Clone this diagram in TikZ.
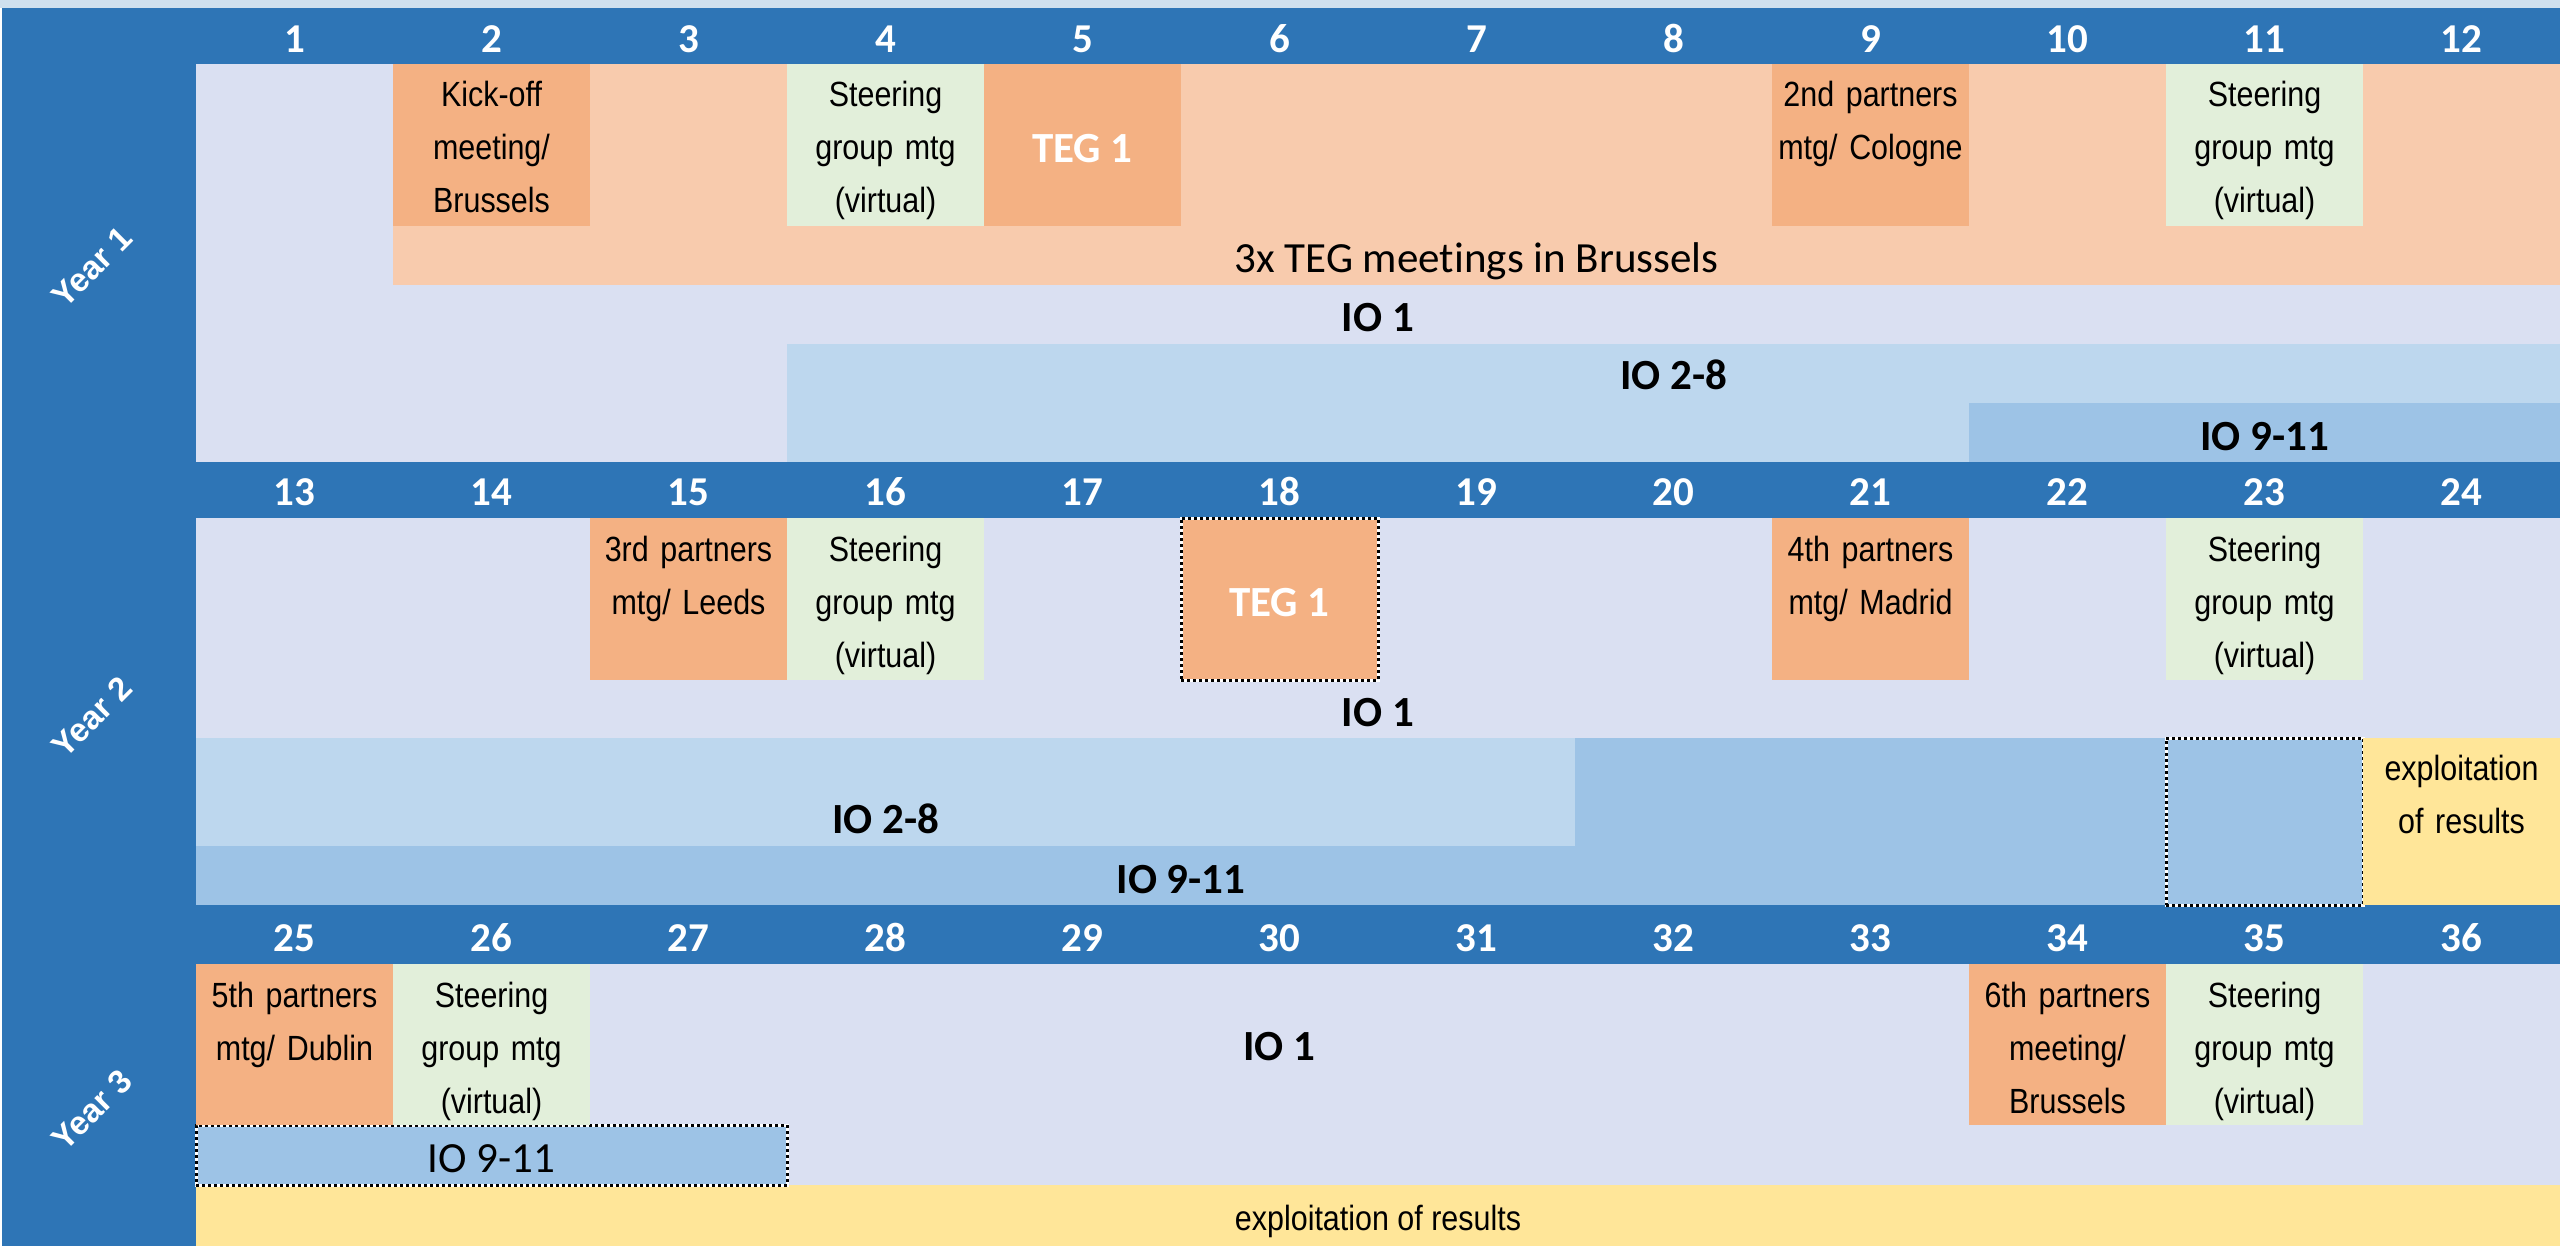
\documentclass[tikz,border=0pt]{standalone}
\usepackage{fontspec}
\setmainfont{Liberation Sans}
\newfontfamily\carlito[Ligatures=NoCommon]{Carlito}
\newfontfamily\narrowsans[FakeStretch=0.87]{Liberation Sans}
\definecolor{hdrblue}{HTML}{2E75B6}
\definecolor{lav}{HTML}{DAE0F2}
\definecolor{peach}{HTML}{F8CBAD}
\definecolor{orng}{HTML}{F4B183}
\definecolor{sgreen}{HTML}{E2EFDA}
\definecolor{lblue}{HTML}{BDD7EE}
\definecolor{mblue}{HTML}{9DC3E6}
\definecolor{yel}{HTML}{FFE699}
\definecolor{topstrip}{HTML}{CFE0EE}
\begin{document}
\begin{tikzpicture}[x=1pt,y=-1pt,
  area/.style={rectangle,inner sep=0pt,outer sep=0pt,anchor=north west,draw=none},
  mtg/.style={area,minimum width=197pt,minimum height=162pt},
  boxtext/.style={anchor=base,text width=195pt,align=center,inner sep=0pt,font=\narrowsans\fontsize{35}{53}\selectfont},
  num/.style={anchor=base,inner sep=0pt,text=white,font=\carlito\bfseries\fontsize{41}{41}\selectfont},
  lbl/.style={anchor=base,inner sep=0pt,font=\carlito\bfseries\fontsize{43}{43}\selectfont},
  lblreg/.style={anchor=base,inner sep=0pt,font=\carlito\fontsize{43}{43}\selectfont},
  teg/.style={lbl,text=white},
  yearlbl/.style={text=white,inner sep=0pt,rotate=45,font=\bfseries\fontsize{33}{33}\selectfont},
  dotborder/.style={draw=white,line width=3pt,postaction={draw=black,line width=3pt,dash pattern=on 3pt off 3pt}},
]
\useasboundingbox (0,0) rectangle (2560,1246);
\fill[white] (0,0) rectangle (2560,1246);

% frame
\node[area,fill=topstrip,minimum width=2560pt,minimum height=8pt] (top) at (0,0) {};
\node[area,fill=hdrblue,minimum width=194pt,minimum height=1238pt] (side) at (2,8) {};
\node[area,fill=hdrblue,minimum width=2364pt,minimum height=56pt] (hdrA) at (196,8) {};
\node[area,fill=hdrblue,minimum width=2364pt,minimum height=56pt] (hdrB) at (196,462) {};
\node[area,fill=hdrblue,minimum width=2364pt,minimum height=59pt] (hdrC) at (196,905) {};

% ---------- Year 1
\node[area,fill=lav,minimum width=2364pt,minimum height=398pt] (y1bg) at (196,64) {};
\node[area,fill=peach,minimum width=2167pt,minimum height=221pt] (y1peach) at (393,64) {};
\node[area,fill=lblue,minimum width=1773pt,minimum height=118pt] (y1io28) at (787,344) {};
\node[area,fill=mblue,minimum width=591pt,minimum height=59pt] (y1io911) at (1969,403) {};
\node[mtg,fill=orng] (kick) at (393,64) {};
\node[mtg,fill=sgreen] (sg1) at (787,64) {};
\node[mtg,fill=orng] (tegA) at (984,64) {};
\node[mtg,fill=orng] (p2) at (1772,64) {};
\node[mtg,fill=sgreen] (sg2) at (2166,64) {};

\node[boxtext] (kickT) at ([yshift=-43pt]kick.north) {Kick-off\\meeting/\\Brussels};
\node[boxtext] (sg1T) at ([yshift=-43pt]sg1.north) {Steering\\group mtg\\(virtual)};
\node[teg] (tegAT) at (1082.5,163) {TEG 1};
\node[boxtext] (p2T) at ([yshift=-43pt]p2.north) {2nd partners\\mtg/ Cologne};
\node[boxtext] (sg2T) at ([yshift=-43pt]sg2.north) {Steering\\group mtg\\(virtual)};
\node[lblreg] (tegmt) at (1476.5,273) {3x TEG meetings in Brussels};
\node[lbl] (io1A) at (1378,332) {IO 1};
\node[lbl] (io28A) at (1673.5,390) {IO 2-8};
\node[lbl] (io911A) at (2264.5,450) {IO 9-11};

% ---------- Year 2
\node[area,fill=lav,minimum width=2364pt,minimum height=220pt] (y2bg) at (196,518) {};
\node[area,fill=lblue,minimum width=1379pt,minimum height=108pt] (y2io28) at (196,738) {};
\node[area,fill=mblue,minimum width=788pt,minimum height=108pt] (y2blue) at (1575,738) {};
\node[area,fill=mblue,minimum width=2167pt,minimum height=59pt] (y2io911) at (196,846) {};
\node[area,fill=mblue,dotborder,minimum width=197pt,minimum height=167pt] (y2dot) at (2166,738) {};
\node[area,fill=yel,minimum width=197pt,minimum height=167pt] (y2yel) at (2363,738) {};
\node[mtg,fill=orng] (p3) at (590,518) {};
\node[mtg,fill=sgreen] (sg3) at (787,518) {};
\node[mtg,fill=orng,dotborder] (tegB) at (1181,518) {};
\node[mtg,fill=orng] (p4) at (1772,518) {};
\node[mtg,fill=sgreen] (sg4) at (2166,518) {};

\node[boxtext] (p3T) at ([yshift=-43pt]p3.north) {3rd partners\\mtg/ Leeds};
\node[boxtext] (sg3T) at ([yshift=-43pt]sg3.north) {Steering\\group mtg\\(virtual)};
\node[teg] (tegBT) at (1279.5,616) {TEG 1};
\node[boxtext] (p4T) at ([yshift=-43pt]p4.north) {4th partners\\mtg/ Madrid};
\node[boxtext] (sg4T) at ([yshift=-43pt]sg4.north) {Steering\\group mtg\\(virtual)};
\node[lbl] (io1B) at (1378,726) {IO 1};
\node[lbl] (io28B) at (885.5,833) {IO 2-8};
\node[lbl] (io911B) at (1181,893) {IO 9-11};
\node[boxtext] (exB) at ([yshift=-42pt]y2yel.north) {exploitation\\of results};

% ---------- Year 3
\node[area,fill=lav,minimum width=2364pt,minimum height=221pt] (y3bg) at (196,964) {};
\node[area,fill=yel,minimum width=2364pt,minimum height=61pt] (y3yel) at (196,1185) {};
\node[area,fill=mblue,dotborder,minimum width=591pt,minimum height=60pt] (y3io911) at (196,1125) {};
\node[mtg,fill=orng,minimum height=161pt] (p5) at (196,964) {};
\node[mtg,fill=sgreen,minimum height=161pt] (sg5) at (393,964) {};
\node[mtg,fill=orng,minimum height=161pt] (p6) at (1969,964) {};
\node[mtg,fill=sgreen,minimum height=161pt] (sg6) at (2166,964) {};

\node[boxtext] (p5T) at ([yshift=-43pt]p5.north) {5th partners\\mtg/ Dublin};
\node[boxtext] (sg5T) at ([yshift=-43pt]sg5.north) {Steering\\group mtg\\(virtual)};
\node[boxtext] (p6T) at ([yshift=-43pt]p6.north) {6th partners\\meeting/\\Brussels};
\node[boxtext] (sg6T) at ([yshift=-43pt]sg6.north) {Steering\\group mtg\\(virtual)};
\node[lbl] (io1C) at (1279.5,1060) {IO 1};
\node[lblreg] (io911C) at (491.5,1172) {IO 9-11};
\node[anchor=base,inner sep=0pt,font=\narrowsans\fontsize{35}{40}\selectfont] (exC) at (1378,1230) {exploitation of results};

% ---------- month numbers
\foreach \i in {1,...,12} {
  \pgfmathsetmacro\cx{294.5+197*(\i-1)}
  \pgfmathtruncatemacro\na{\i+12}
  \pgfmathtruncatemacro\nb{\i+24}
  \node[num] (m\i) at (\cx,53) {\i};
  \node[num] (m\na) at (\cx,505) {\na};
  \node[num] (m\nb) at (\cx,951) {\nb};
}

% ---------- year labels
\node[yearlbl] (yr1) at (92,267) {Year 1};
\node[yearlbl] (yr2) at (92,717) {Year 2};
\node[yearlbl] (yr3) at (92,1110) {Year 3};
\end{tikzpicture}
\end{document}
